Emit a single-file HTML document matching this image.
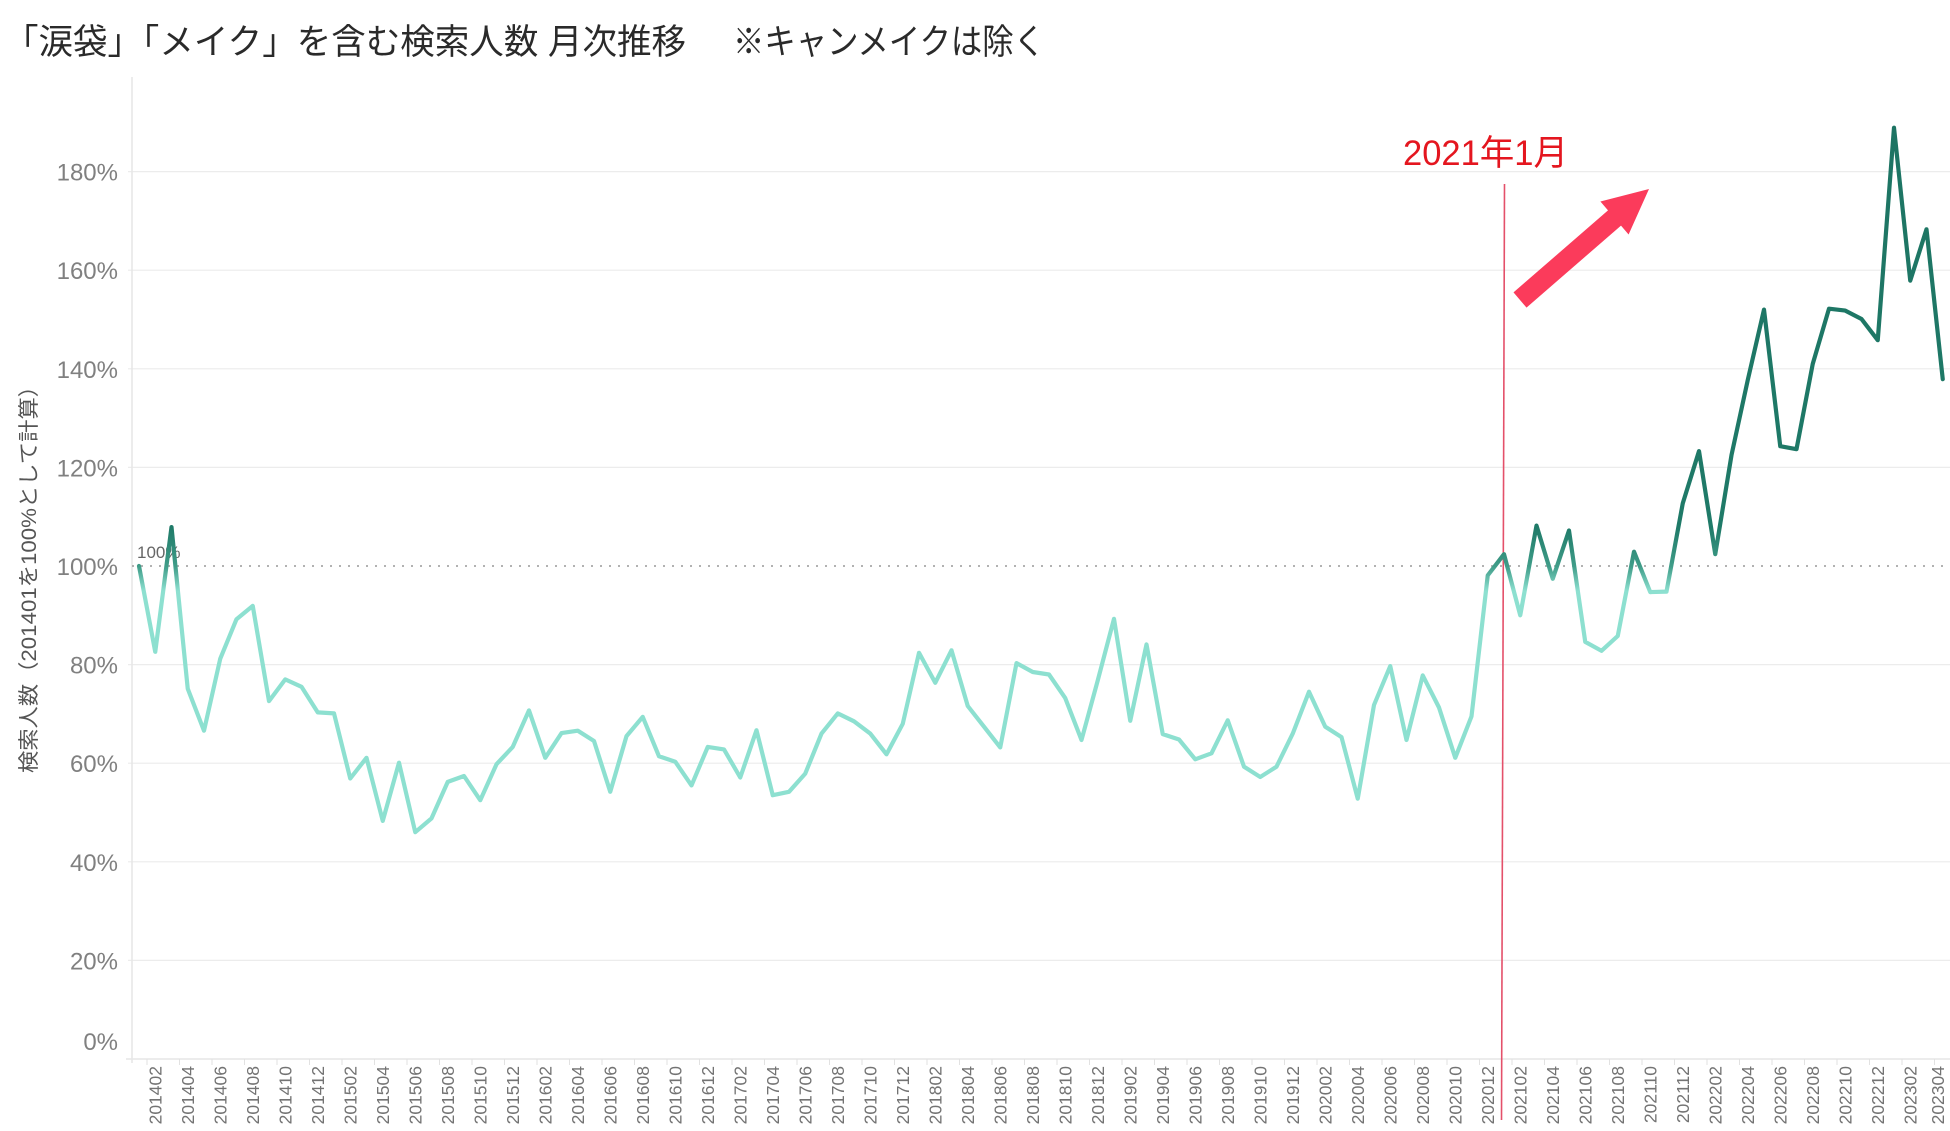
<!DOCTYPE html>
<html>
<head>
<meta charset="utf-8">
<style>
  html, body { margin: 0; padding: 0; background: #ffffff; }
  body { width: 1950px; height: 1131px; overflow: hidden; }
  svg { display: block; }
  .t { font-family: "Liberation Sans", "Noto Sans CJK JP", sans-serif; }
</style>
</head>
<body>
<svg width="1950" height="1131" viewBox="0 0 1950 1131" xmlns="http://www.w3.org/2000/svg">
  <defs>
    <linearGradient id="lg" gradientUnits="userSpaceOnUse" x1="0" y1="130" x2="0" y2="600">
      <stop offset="0" stop-color="#1d7463"/>
      <stop offset="0.845" stop-color="#1f7a68"/>
      <stop offset="0.928" stop-color="#3f9c88"/>
      <stop offset="0.981" stop-color="#8de0d0"/>
      <stop offset="1" stop-color="#8de0d0"/>
    </linearGradient>
  </defs>

  <!-- Title -->
  <text class="t" x="4" y="54" font-size="35" fill="#2a2a2a" textLength="682" lengthAdjust="spacingAndGlyphs">「涙袋」「メイク」を含む検索人数 月次推移</text>
  <text class="t" x="733" y="54" font-size="35" fill="#2a2a2a" textLength="312" lengthAdjust="spacingAndGlyphs">※キャンメイクは除く</text>

  <!-- Gridlines -->
  <g stroke="#ececec" stroke-width="1.2">
    <line x1="128" y1="171.6" x2="1950" y2="171.6"/>
    <line x1="128" y1="270.2" x2="1950" y2="270.2"/>
    <line x1="128" y1="368.8" x2="1950" y2="368.8"/>
    <line x1="128" y1="467.4" x2="1950" y2="467.4"/>
    <line x1="128" y1="664.6" x2="1950" y2="664.6"/>
    <line x1="128" y1="763.2" x2="1950" y2="763.2"/>
    <line x1="128" y1="861.8" x2="1950" y2="861.8"/>
    <line x1="128" y1="960.4" x2="1950" y2="960.4"/>
  </g>
  <!-- Axes -->
  <line x1="132" y1="77" x2="132" y2="1063" stroke="#e6e6e6" stroke-width="1.5"/>
  <line x1="126" y1="1059" x2="1950" y2="1059" stroke="#e6e6e6" stroke-width="1.5"/>

  <!-- 100% reference dotted line -->
  <line x1="132" y1="566" x2="1950" y2="566" stroke="#a8a8a8" stroke-width="1.8" stroke-dasharray="2 7"/>
  <text class="t" x="137" y="558" font-size="17" fill="#666">100%</text>

  <!-- Y-axis labels -->
  <g class="t" font-size="24" fill="#808080" text-anchor="end">
    <text x="118" y="180.6">180%</text>
    <text x="118" y="279.2">160%</text>
    <text x="118" y="377.8">140%</text>
    <text x="118" y="476.4">120%</text>
    <text x="118" y="575">100%</text>
    <text x="118" y="673.6">80%</text>
    <text x="118" y="772.2">60%</text>
    <text x="118" y="870.8">40%</text>
    <text x="118" y="969.4">20%</text>
    <text x="118" y="1050">0%</text>
  </g>

  <!-- Y-axis title -->
  <text class="t" transform="translate(36,574) rotate(-90)" font-size="21" fill="#555" text-anchor="middle" textLength="398" lengthAdjust="spacingAndGlyphs">検索人数（201401を100%として計算）</text>

  <!-- Red vertical line -->
  <line x1="1504.5" y1="184" x2="1501.5" y2="1120" stroke="#e4506a" stroke-width="1.6"/>

  <!-- Data line -->
  <path fill="none" stroke="url(#lg)" stroke-width="4.2" stroke-linejoin="round" stroke-linecap="round"
    d="M139,566 L155.25,651.8 L171.5,527.1 L187.75,688.8 L204,730.7 L220.25,658.7 L236.5,619.2 L252.75,605.9 L269,701.1 L285.25,679.4 L301.5,686.8 L317.75,712.4 L334,713.4 L350.25,778.5 L366.5,757.8 L382.75,820.9 L399,762.7 L415.25,832.2 L431.5,818.4 L447.75,781.9 L464,776 L480.25,800.2 L496.5,764.2 L512.75,746.9 L529,710.4 L545.25,757.8 L561.5,733.1 L577.75,730.7 L594,741 L610.25,791.8 L626.5,736.1 L642.75,716.9 L659,756.3 L675.25,761.7 L691.5,785.4 L707.75,746.9 L724,749.4 L740.25,777.5 L756.5,730.2 L772.75,795.2 L789,791.8 L805.25,773.6 L821.5,733.6 L837.75,713.4 L854,721.3 L870.25,733.6 L886.5,754.3 L902.75,723.8 L919,652.8 L935.25,682.8 L951.5,650.3 L967.75,706 L984,726.7 L1000.25,747.4 L1016.5,663.1 L1032.75,672 L1049,674.5 L1065.25,698.1 L1081.5,740 L1097.75,680.4 L1114,618.8 L1130.25,720.8 L1146.5,644.4 L1162.75,734.1 L1179,739.5 L1195.25,759.3 L1211.5,753.3 L1227.75,720.3 L1244,766.7 L1260.25,777 L1276.5,766.7 L1292.75,733.6 L1309,691.7 L1325.25,726.7 L1341.5,737.1 L1357.75,798.7 L1374,705 L1390.25,666.1 L1406.5,740 L1422.75,675.4 L1439,707.5 L1455.25,757.8 L1471.5,716.4 L1487.75,575.4 L1504,554.2 L1520.25,615.3 L1536.5,525.6 L1552.75,578.8 L1569,530.5 L1585.25,641.9 L1601.5,650.8 L1617.75,636 L1634,551.7 L1650.25,592.1 L1666.5,591.6 L1682.75,503.4 L1699,451.1 L1715.25,554.2 L1731.5,455.1 L1747.75,380.1 L1764,309.6 L1780.25,446.2 L1796.5,449.2 L1812.75,363.9 L1829,308.7 L1845.25,310.6 L1861.5,319 L1877.75,340.2 L1894,127.7 L1910.25,280.6 L1926.5,229.3 L1942.75,379.2"/>

  <!-- Red annotation -->
  <text class="t" x="1403" y="165" font-size="35" fill="#e4161f" textLength="165" lengthAdjust="spacingAndGlyphs">2021年1月</text>
  <polygon fill="#fb3b5b" points="1513.5,292.4 1608,210.4 1600.4,201.5 1649,189 1628.6,234.5 1621,225.6 1526.5,307.6"/>

  <!-- X-axis ticks -->
  <g stroke="#e2e2e2" stroke-width="1">
    <line x1="147" y1="1059" x2="147" y2="1065"/><line x1="179.5" y1="1059" x2="179.5" y2="1065"/><line x1="212" y1="1059" x2="212" y2="1065"/><line x1="244.5" y1="1059" x2="244.5" y2="1065"/><line x1="277" y1="1059" x2="277" y2="1065"/><line x1="309.5" y1="1059" x2="309.5" y2="1065"/><line x1="342" y1="1059" x2="342" y2="1065"/><line x1="374.5" y1="1059" x2="374.5" y2="1065"/><line x1="407" y1="1059" x2="407" y2="1065"/><line x1="439.5" y1="1059" x2="439.5" y2="1065"/><line x1="472" y1="1059" x2="472" y2="1065"/><line x1="504.5" y1="1059" x2="504.5" y2="1065"/><line x1="537" y1="1059" x2="537" y2="1065"/><line x1="569.5" y1="1059" x2="569.5" y2="1065"/><line x1="602" y1="1059" x2="602" y2="1065"/><line x1="634.5" y1="1059" x2="634.5" y2="1065"/><line x1="667" y1="1059" x2="667" y2="1065"/><line x1="699.5" y1="1059" x2="699.5" y2="1065"/><line x1="732" y1="1059" x2="732" y2="1065"/><line x1="764.5" y1="1059" x2="764.5" y2="1065"/><line x1="797" y1="1059" x2="797" y2="1065"/><line x1="829.5" y1="1059" x2="829.5" y2="1065"/><line x1="862" y1="1059" x2="862" y2="1065"/><line x1="894.5" y1="1059" x2="894.5" y2="1065"/><line x1="927" y1="1059" x2="927" y2="1065"/><line x1="959.5" y1="1059" x2="959.5" y2="1065"/><line x1="992" y1="1059" x2="992" y2="1065"/><line x1="1024.5" y1="1059" x2="1024.5" y2="1065"/><line x1="1057" y1="1059" x2="1057" y2="1065"/><line x1="1089.5" y1="1059" x2="1089.5" y2="1065"/><line x1="1122" y1="1059" x2="1122" y2="1065"/><line x1="1154.5" y1="1059" x2="1154.5" y2="1065"/><line x1="1187" y1="1059" x2="1187" y2="1065"/><line x1="1219.5" y1="1059" x2="1219.5" y2="1065"/><line x1="1252" y1="1059" x2="1252" y2="1065"/><line x1="1284.5" y1="1059" x2="1284.5" y2="1065"/><line x1="1317" y1="1059" x2="1317" y2="1065"/><line x1="1349.5" y1="1059" x2="1349.5" y2="1065"/><line x1="1382" y1="1059" x2="1382" y2="1065"/><line x1="1414.5" y1="1059" x2="1414.5" y2="1065"/><line x1="1447" y1="1059" x2="1447" y2="1065"/><line x1="1479.5" y1="1059" x2="1479.5" y2="1065"/><line x1="1512" y1="1059" x2="1512" y2="1065"/><line x1="1544.5" y1="1059" x2="1544.5" y2="1065"/><line x1="1577" y1="1059" x2="1577" y2="1065"/><line x1="1609.5" y1="1059" x2="1609.5" y2="1065"/><line x1="1642" y1="1059" x2="1642" y2="1065"/><line x1="1674.5" y1="1059" x2="1674.5" y2="1065"/><line x1="1707" y1="1059" x2="1707" y2="1065"/><line x1="1739.5" y1="1059" x2="1739.5" y2="1065"/><line x1="1772" y1="1059" x2="1772" y2="1065"/><line x1="1804.5" y1="1059" x2="1804.5" y2="1065"/><line x1="1837" y1="1059" x2="1837" y2="1065"/><line x1="1869.5" y1="1059" x2="1869.5" y2="1065"/><line x1="1902" y1="1059" x2="1902" y2="1065"/><line x1="1934.5" y1="1059" x2="1934.5" y2="1065"/>
  </g>

  <!-- X-axis labels -->
  <g class="t" font-size="17.5" fill="#737373" text-anchor="end">
    <text transform="translate(161.25,1066) rotate(-90)">201402</text>
    <text transform="translate(193.75,1066) rotate(-90)">201404</text>
    <text transform="translate(226.25,1066) rotate(-90)">201406</text>
    <text transform="translate(258.75,1066) rotate(-90)">201408</text>
    <text transform="translate(291.25,1066) rotate(-90)">201410</text>
    <text transform="translate(323.75,1066) rotate(-90)">201412</text>
    <text transform="translate(356.25,1066) rotate(-90)">201502</text>
    <text transform="translate(388.75,1066) rotate(-90)">201504</text>
    <text transform="translate(421.25,1066) rotate(-90)">201506</text>
    <text transform="translate(453.75,1066) rotate(-90)">201508</text>
    <text transform="translate(486.25,1066) rotate(-90)">201510</text>
    <text transform="translate(518.75,1066) rotate(-90)">201512</text>
    <text transform="translate(551.25,1066) rotate(-90)">201602</text>
    <text transform="translate(583.75,1066) rotate(-90)">201604</text>
    <text transform="translate(616.25,1066) rotate(-90)">201606</text>
    <text transform="translate(648.75,1066) rotate(-90)">201608</text>
    <text transform="translate(681.25,1066) rotate(-90)">201610</text>
    <text transform="translate(713.75,1066) rotate(-90)">201612</text>
    <text transform="translate(746.25,1066) rotate(-90)">201702</text>
    <text transform="translate(778.75,1066) rotate(-90)">201704</text>
    <text transform="translate(811.25,1066) rotate(-90)">201706</text>
    <text transform="translate(843.75,1066) rotate(-90)">201708</text>
    <text transform="translate(876.25,1066) rotate(-90)">201710</text>
    <text transform="translate(908.75,1066) rotate(-90)">201712</text>
    <text transform="translate(941.25,1066) rotate(-90)">201802</text>
    <text transform="translate(973.75,1066) rotate(-90)">201804</text>
    <text transform="translate(1006.25,1066) rotate(-90)">201806</text>
    <text transform="translate(1038.75,1066) rotate(-90)">201808</text>
    <text transform="translate(1071.25,1066) rotate(-90)">201810</text>
    <text transform="translate(1103.75,1066) rotate(-90)">201812</text>
    <text transform="translate(1136.25,1066) rotate(-90)">201902</text>
    <text transform="translate(1168.75,1066) rotate(-90)">201904</text>
    <text transform="translate(1201.25,1066) rotate(-90)">201906</text>
    <text transform="translate(1233.75,1066) rotate(-90)">201908</text>
    <text transform="translate(1266.25,1066) rotate(-90)">201910</text>
    <text transform="translate(1298.75,1066) rotate(-90)">201912</text>
    <text transform="translate(1331.25,1066) rotate(-90)">202002</text>
    <text transform="translate(1363.75,1066) rotate(-90)">202004</text>
    <text transform="translate(1396.25,1066) rotate(-90)">202006</text>
    <text transform="translate(1428.75,1066) rotate(-90)">202008</text>
    <text transform="translate(1461.25,1066) rotate(-90)">202010</text>
    <text transform="translate(1493.75,1066) rotate(-90)">202012</text>
    <text transform="translate(1526.25,1066) rotate(-90)">202102</text>
    <text transform="translate(1558.75,1066) rotate(-90)">202104</text>
    <text transform="translate(1591.25,1066) rotate(-90)">202106</text>
    <text transform="translate(1623.75,1066) rotate(-90)">202108</text>
    <text transform="translate(1656.25,1066) rotate(-90)">202110</text>
    <text transform="translate(1688.75,1066) rotate(-90)">202112</text>
    <text transform="translate(1721.25,1066) rotate(-90)">202202</text>
    <text transform="translate(1753.75,1066) rotate(-90)">202204</text>
    <text transform="translate(1786.25,1066) rotate(-90)">202206</text>
    <text transform="translate(1818.75,1066) rotate(-90)">202208</text>
    <text transform="translate(1851.25,1066) rotate(-90)">202210</text>
    <text transform="translate(1883.75,1066) rotate(-90)">202212</text>
    <text transform="translate(1916.25,1066) rotate(-90)">202302</text>
    <text transform="translate(1944,1066) rotate(-90)">202304</text>
  </g>
</svg>
</body>
</html>
